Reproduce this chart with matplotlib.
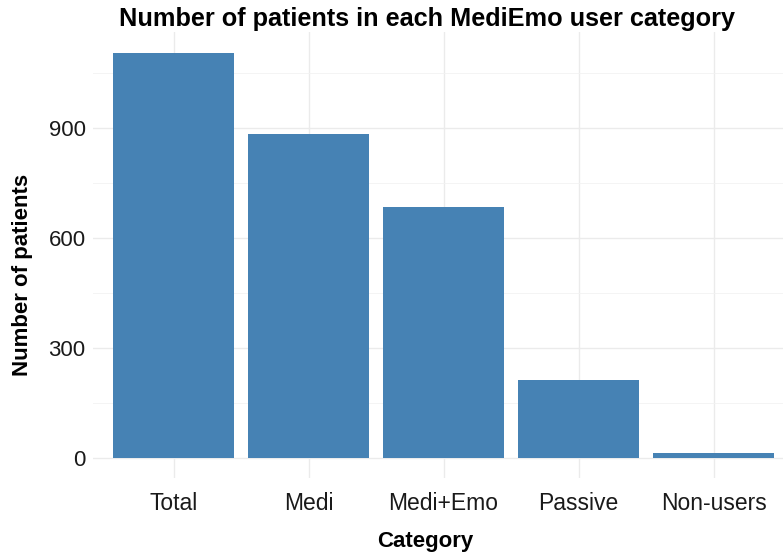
import matplotlib
matplotlib.use("Agg")
import matplotlib.pyplot as plt
from matplotlib.ticker import MultipleLocator

categories = ["Total", "Medi", "Medi+Emo", "Passive", "Non-users"]
counts = [1105, 882, 685, 211, 13]
y_ticks = [0, 300, 600, 900]

plt.rcParams['font.family'] = ['Liberation Sans', 'DejaVu Sans']

fig = plt.figure(figsize=(7.83, 5.53), dpi=100)
ax = fig.add_axes([92.5/783, (553-477.9)/553, 702/783, 445.6/553])

x = list(range(1, len(categories) + 1))
ax.bar(x, counts, width=0.9, color="#4682B4", zorder=3)

ax.set_xlim(0.4, 5.6)
ax.set_ylim(-55.25, 1160.25)
ax.set_xticks(x)
ax.set_xticklabels(categories)
ax.set_yticks(y_ticks)
ax.yaxis.set_minor_locator(MultipleLocator(150))
ax.grid(which='major', color="#EBEBEB", linewidth=1.0, zorder=0)
ax.grid(which='minor', axis='y', color="#F2F2F2", linewidth=0.6, zorder=0)
ax.tick_params(which='both', length=0, colors="#1a1a1a")
ax.tick_params(axis='x', labelsize=16.5, pad=10)
ax.tick_params(axis='y', labelsize=16, pad=5)
for s in ax.spines.values():
    s.set_visible(False)

ax.set_xlabel("Category", fontsize=16, fontweight='bold')
ax.xaxis.set_label_coords((425 - 92.5) / 702, -(541 - 477.9) / 445.6)
ax.xaxis.label.set_va('center')
ax.set_ylabel("Number of patients", fontsize=16, fontweight='bold')
ax.yaxis.set_label_coords(-(92.5 - 23) / 702, (477.9 - 274.5) / 445.6)
ax.yaxis.label.set_va('center')
fig.text(427/783, 1 - 19/553, "Number of patients in each MediEmo user category",
         ha='center', va='center', fontsize=18.2, fontweight='bold')

fig.savefig("out.png", dpi=100)
